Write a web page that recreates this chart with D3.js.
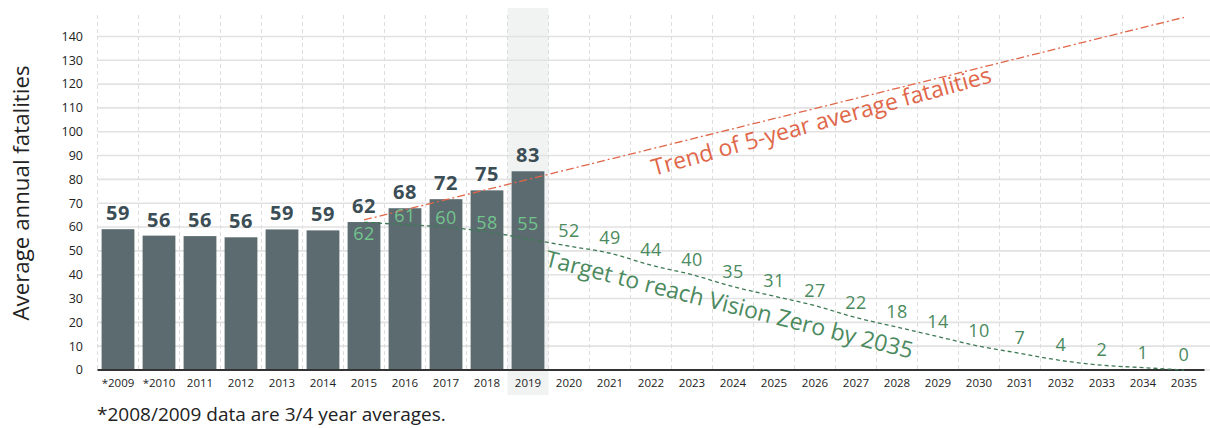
<!DOCTYPE html>
<html>
<head>
<meta charset="utf-8">
<script src="https://cdn.jsdelivr.net/npm/d3@7"></script>
<style>
  body { margin: 0; background: #fff; }
  svg { font-family: "Open Sans", Lato, sans-serif; }
</style>
</head>
<body>
<div id="chart"></div>
<script>
// categories on the x axis
var years = ["*2009", "*2010", "2011", "2012", "2013", "2014", "2015", "2016", "2017", "2018", "2019",
  "2020", "2021", "2022", "2023", "2024", "2025", "2026", "2027", "2028", "2029", "2030",
  "2031", "2032", "2033", "2034", "2035"];

// 5-year average fatalities (bars)
var barYears = ["*2009", "*2010", "2011", "2012", "2013", "2014", "2015", "2016", "2017", "2018", "2019"];
var barValues = [59.1, 56.4, 56.2, 55.7, 59.0, 58.6, 62.1, 67.9, 71.7, 75.4, 83.4];

// Vision Zero target path
var targetYears = ["2015", "2016", "2017", "2018", "2019", "2020", "2021", "2022", "2023", "2024", "2025",
  "2026", "2027", "2028", "2029", "2030", "2031", "2032", "2033", "2034", "2035"];
var targetValues = [62, 61, 60, 58, 55, 52, 49, 44, 40, 35, 31, 27, 22, 18, 14, 10, 7, 4, 2, 1, 0];

// trend line end points
var trendYears = ["2015", "2035"];
var trendValues = [63, 148];

var yTicks = [0, 10, 20, 30, 40, 50, 60, 70, 80, 90, 100, 110, 120, 130, 140];
var highlightYear = "2019";

function drawChart() {
  var width = 1210, height = 428;
  var plotLeft = 97.5, plotRight = 1204.5, plotTop = 15, plotBottom = 370;

  var svg = d3.select("#chart").append("svg")
    .attr("width", width)
    .attr("height", height);

  var x = d3.scaleBand()
    .domain(years)
    .range([plotLeft, plotRight])
    .paddingInner(0.2)
    .paddingOuter(0.1);

  var y = d3.scaleLinear()
    .domain([0, 149])
    .range([plotBottom, plotTop]);

  var step = x.step();
  var cx = function (d) { return x(d) + x.bandwidth() / 2; };

  // highlighted column
  svg.append("rect")
    .attr("x", x(highlightYear) - step * 0.1)
    .attr("y", 8)
    .attr("width", step)
    .attr("height", 387)
    .attr("fill", "#f1f3f3");

  // horizontal grid
  svg.append("g")
    .selectAll("line")
    .data(yTicks)
    .join("line")
    .attr("x1", plotLeft)
    .attr("x2", width)
    .attr("y1", d => y(d))
    .attr("y2", d => y(d))
    .attr("stroke", "#e2e2e2")
    .attr("stroke-width", 1.6);

  // vertical dashed grid
  svg.append("g")
    .selectAll("line")
    .data(years)
    .join("line")
    .attr("x1", d => x(d) - step * 0.1)
    .attr("x2", d => x(d) - step * 0.1)
    .attr("y1", plotTop)
    .attr("y2", plotBottom)
    .attr("stroke", "#dddddd")
    .attr("stroke-width", 1)
    .attr("stroke-dasharray", "4,3");

  // y axis tick labels
  svg.append("g")
    .selectAll("text")
    .data(yTicks)
    .join("text")
    .attr("x", 83)
    .attr("y", d => y(d))
    .attr("dy", "0.35em")
    .attr("text-anchor", "end")
    .attr("font-size", 12.5)
    .attr("fill", "#222")
    .text(d => d);

  // bars
  svg.append("g")
    .selectAll("rect")
    .data(barValues)
    .join("rect")
    .attr("x", (d, i) => x(barYears[i]))
    .attr("y", d => y(d))
    .attr("width", x.bandwidth())
    .attr("height", d => y(0) - y(d))
    .attr("fill", "#5b6b70");

  // bar value labels
  svg.append("g")
    .selectAll("text")
    .data(barValues)
    .join("text")
    .attr("x", (d, i) => cx(barYears[i]))
    .attr("y", d => y(d) - 9)
    .attr("text-anchor", "middle")
    .attr("font-size", 20)
    .attr("font-weight", 700)
    .attr("letter-spacing", 0.6)
    .attr("fill", "#3b4d55")
    .text(d => Math.round(d));

  // x axis
  svg.append("line")
    .attr("x1", plotLeft)
    .attr("x2", plotRight)
    .attr("y1", plotBottom)
    .attr("y2", plotBottom)
    .attr("stroke", "#333")
    .attr("stroke-width", 2);

  svg.append("g")
    .selectAll("text")
    .data(years)
    .join("text")
    .attr("x", d => cx(d))
    .attr("y", 387)
    .attr("text-anchor", "middle")
    .attr("font-size", 11.5)
    .attr("fill", "#222")
    .text(d => d);

  // trend line
  svg.append("path")
    .datum(trendValues)
    .attr("d", d3.line()
      .x((d, i) => cx(trendYears[i]))
      .y(d => y(d)))
    .attr("fill", "none")
    .attr("stroke", "#e0674a")
    .attr("stroke-width", 1.3)
    .attr("stroke-dasharray", "8,3,2,3");

  // target line
  svg.append("path")
    .datum(targetValues)
    .attr("d", d3.line()
      .x((d, i) => cx(targetYears[i]))
      .y(d => y(d))
      .curve(d3.curveMonotoneX))
    .attr("fill", "none")
    .attr("stroke", "#3f7a55")
    .attr("stroke-width", 1.3)
    .attr("stroke-dasharray", "4,3");

  // target labels
  svg.append("g")
    .selectAll("text")
    .data(targetValues)
    .join("text")
    .attr("x", (d, i) => cx(targetYears[i]))
    .attr("y", (d, i) => i === 0 ? y(d) + 18 : (i < 4 ? y(d) - 3 : y(d) - 9))
    .attr("text-anchor", "middle")
    .attr("font-size", 18)
    .attr("letter-spacing", 0.5)
    .attr("fill", (d, i) => barYears.indexOf(targetYears[i]) >= 0 ? "#72c48d" : "#4b8a5e")
    .text(d => d);

  // line annotations
  svg.append("text")
    .attr("transform", "translate(654,176) rotate(-15.5)")
    .attr("font-size", 23)
    .attr("fill", "#e0674a")
    .text("Trend of 5-year average fatalities");

  svg.append("text")
    .attr("transform", "translate(544,266) rotate(14.2)")
    .attr("font-size", 23)
    .attr("fill", "#4b8a5e")
    .text("Target to reach Vision Zero by 2035");

  // y axis title
  svg.append("text")
    .attr("transform", "translate(29,193) rotate(-90)")
    .attr("text-anchor", "middle")
    .attr("font-size", 22.3)
    .attr("fill", "#222")
    .text("Average annual fatalities");

  // footnote
  svg.append("text")
    .attr("x", 97)
    .attr("y", 421)
    .attr("font-size", 19)
    .attr("fill", "#222")
    .text("*2008/2009 data are 3/4 year averages.");
}

drawChart();
</script>
</body>
</html>
